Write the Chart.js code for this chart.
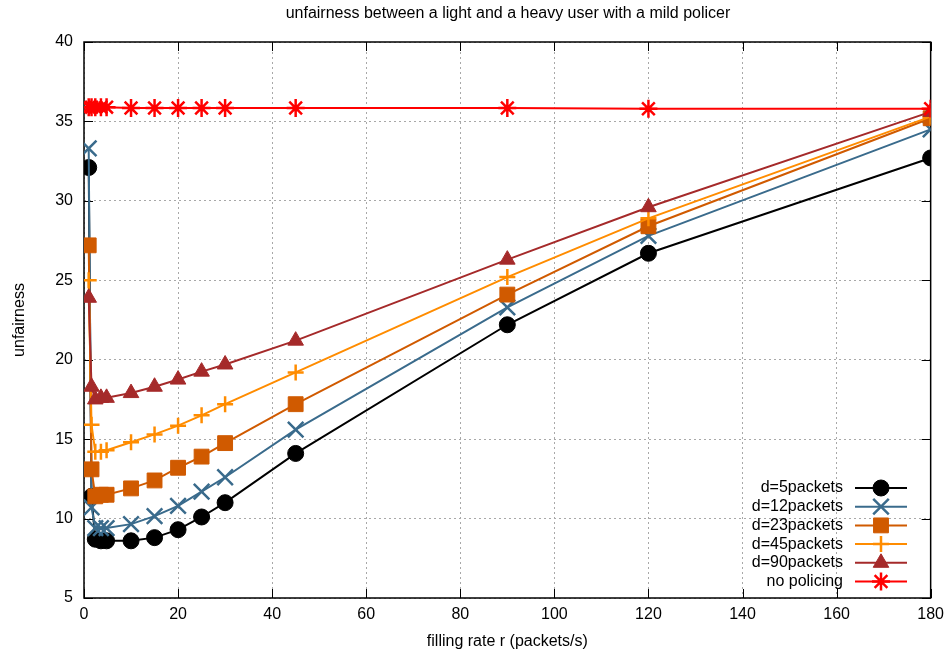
<!DOCTYPE html>
<html>
<head>
<meta charset="utf-8">
<script src="https://cdn.jsdelivr.net/npm/chart.js@4.4.1/dist/chart.umd.min.js"></script>
<style>
  html, body { margin: 0; padding: 0; background: #fff; }
  #wrap { width: 951px; height: 660px; }
</style>
</head>
<body>
<div id="wrap"><canvas id="myChart" width="951" height="660"></canvas></div>
<script>
// filling rate r (packets/s)
var rates = [1, 1.6, 2.4, 3.6, 4.8, 10, 15, 20, 25, 30, 45, 90, 120, 180];

// unfairness per bucket depth
var d5   = [32.1, 11.4, 8.7, 8.6, 8.6, 8.6, 8.8, 9.3, 10.1, 11.0, 14.1, 22.2, 26.7, 32.7];
var d12  = [33.3, 10.7, 9.4, 9.4, 9.4, 9.65, 10.15, 10.8, 11.7, 12.6, 15.6, 23.3, 27.8, 34.5];
var d23  = [27.2, 13.1, 11.4, 11.5, 11.5, 11.9, 12.4, 13.2, 13.9, 14.75, 17.2, 24.1, 28.4, 35.2];
var d45  = [25.0, 15.9, 14.2, 14.2, 14.3, 14.8, 15.3, 15.85, 16.5, 17.2, 19.2, 25.2, 28.9, 35.3];
var d90  = [23.9, 18.3, 17.5, 17.6, 17.6, 17.9, 18.3, 18.75, 19.25, 19.7, 21.2, 26.3, 29.6, 35.6];
var noPolicing = [35.9, 35.9, 35.9, 35.9, 35.9, 35.85, 35.85, 35.85, 35.85, 35.85, 35.85, 35.85, 35.8, 35.8];

var labels = ["d=5packets", "d=12packets", "d=23packets", "d=45packets", "d=90packets", "no policing"];
var xTicks = [0, 20, 40, 60, 80, 100, 120, 140, 160, 180];
var yTicks = [5, 10, 15, 20, 25, 30, 35, 40];

var FONT = '"Liberation Sans", Arial, sans-serif';

function pts(ys) {
    return ys.map(function(y, i) { return { x: rates[i], y: y }; });
}

function series(label, ys, color, style, radius, filled, order) {
    return {
        label: label,
        data: pts(ys),
        borderColor: color,
        backgroundColor: filled ? color : 'rgba(0,0,0,0)',
        borderWidth: 2,
        pointStyle: style,
        pointRadius: radius,
        pointHoverRadius: radius,
        pointBorderWidth: filled ? 1 : 2.5,
        pointBorderColor: color,
        pointBackgroundColor: filled ? color : 'rgba(0,0,0,0)',
        tension: 0,
        order: order
    };
}

var datasets = [
    series(labels[0], d5, '#000000', 'circle', 8, true, 6),
    series(labels[1], d12, '#3a6b8c', 'crossRot', 11, false, 5),
    series(labels[2], d23, '#d05a00', 'rect', 10.5, true, 4),
    series(labels[3], d45, '#ff8c00', 'cross', 8, false, 3),
    series(labels[4], d90, '#a52a2a', 'triangle', 9, true, 2),
    series(labels[5], noPolicing, '#ff0000', 'star', 9, false, 1)
];

// frame, inward ticks, titles and legend, gnuplot style
var decor = {
    id: 'decor',
    beforeDatasetsDraw: function(chart) {
        var ctx = chart.ctx, a = chart.chartArea;
        var xs = chart.scales.x, ys = chart.scales.y;
        ctx.save();
        ctx.strokeStyle = '#000';
        ctx.lineWidth = 1;
        ctx.setLineDash([]);
        ctx.beginPath();
        xTicks.forEach(function(t) {
            var px = Math.round(xs.getPixelForValue(t)) + 0.5;
            ctx.moveTo(px, a.bottom); ctx.lineTo(px, a.bottom - 9);
            ctx.moveTo(px, a.top); ctx.lineTo(px, a.top + 9);
        });
        yTicks.forEach(function(t) {
            var py = Math.round(ys.getPixelForValue(t)) + 0.5;
            ctx.moveTo(a.left, py); ctx.lineTo(a.left + 9, py);
            ctx.moveTo(a.right, py); ctx.lineTo(a.right - 9, py);
        });
        ctx.stroke();
        ctx.lineWidth = 1.5;
        ctx.strokeRect(a.left, a.top, a.right - a.left, a.bottom - a.top);
        ctx.restore();
    },
    afterDraw: function(chart) {
        var ctx = chart.ctx, a = chart.chartArea;
        ctx.save();
        ctx.fillStyle = '#000';
        ctx.font = '16px ' + FONT;
        ctx.textAlign = 'center';
        ctx.textBaseline = 'middle';
        ctx.fillText('unfairness between a light and a heavy user with a mild policer', 508, 14);
        ctx.fillText('filling rate r (packets/s)', (a.left + a.right) / 2, 642);
        ctx.save();
        ctx.translate(20, (a.top + a.bottom) / 2);
        ctx.rotate(-Math.PI / 2);
        ctx.fillText('unfairness', 0, 0);
        ctx.restore();

        // legend
        var textRight = 843, lineL = 855, lineR = 907, markX = 881;
        var y0 = 488, step = 18.7;
        ctx.font = '16px ' + FONT;
        ctx.textAlign = 'right';
        chart.data.datasets.forEach(function(ds, i) {
            var y = y0 + i * step;
            ctx.fillStyle = '#000';
            ctx.fillText(ds.label, textRight, y);
            ctx.strokeStyle = ds.borderColor;
            ctx.lineWidth = 2;
            ctx.beginPath();
            ctx.moveTo(lineL, y); ctx.lineTo(lineR, y);
            ctx.stroke();
            ctx.fillStyle = ds.pointBackgroundColor;
            ctx.lineWidth = ds.pointBorderWidth;
            Chart.helpers.drawPoint(ctx, {
                pointStyle: ds.pointStyle,
                radius: ds.pointRadius,
                borderWidth: ds.pointBorderWidth,
                rotation: 0
            }, markX, y);
        });
        ctx.restore();
    }
};

var ctx = document.getElementById('myChart').getContext('2d');
var myChart = new Chart(ctx, {
    type: 'line',
    data: { datasets: datasets },
    options: {
        responsive: false,
        animation: false,
        events: [],
        layout: { padding: { top: 42, right: 18, left: 0, bottom: 0 } },
        plugins: {
            legend: { display: false },
            title: { display: false },
            tooltip: { enabled: false }
        },
        scales: {
            x: {
                type: 'linear',
                min: 0,
                max: 180,
                afterFit: function(scale) { scale.height = 62; },
                afterBuildTicks: function(scale) {
                    scale.ticks = xTicks.map(function(v) { return { value: v }; });
                },
                ticks: {
                    color: '#000',
                    font: { family: FONT, size: 16 },
                    padding: 7,
                    maxRotation: 0
                },
                grid: { color: '#a8a8a8', lineWidth: 1, drawTicks: false },
                border: { display: false, dash: [2, 3] }
            },
            y: {
                type: 'linear',
                min: 5,
                max: 40,
                afterFit: function(scale) { scale.width = 84; },
                afterBuildTicks: function(scale) {
                    scale.ticks = yTicks.map(function(v) { return { value: v }; });
                },
                ticks: {
                    color: '#000',
                    font: { family: FONT, size: 16 },
                    padding: 11
                },
                grid: { color: '#a8a8a8', lineWidth: 1, drawTicks: false },
                border: { display: false, dash: [2, 3] }
            }
        }
    },
    plugins: [decor]
});
</script>
</body>
</html>
